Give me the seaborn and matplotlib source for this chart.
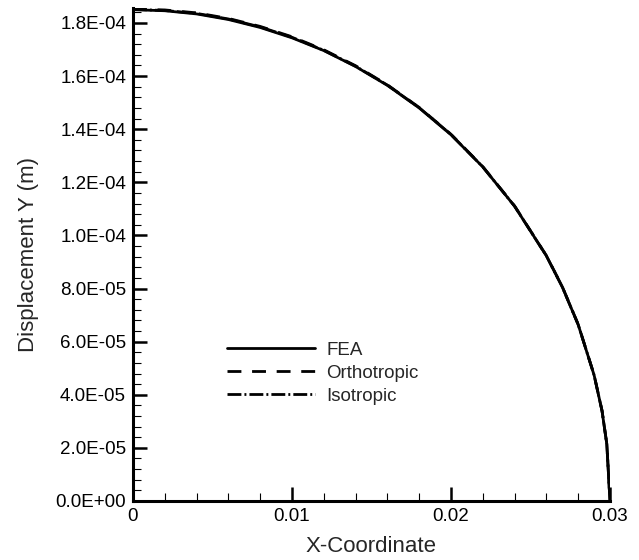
import numpy as np
import pandas as pd
import matplotlib
matplotlib.use("Agg")
import matplotlib.pyplot as plt
import seaborn as sns
from matplotlib.ticker import MultipleLocator, FuncFormatter

x_coord = [0, 0.002, 0.004, 0.006, 0.008, 0.010, 0.012, 0.014, 0.016, 0.018,
           0.020, 0.022, 0.024, 0.026, 0.027, 0.028, 0.029, 0.0295, 0.0298, 0.030]
fea = [1.850e-4, 1.846e-4, 1.834e-4, 1.813e-4, 1.783e-4, 1.744e-4, 1.696e-4, 1.636e-4,
       1.565e-4, 1.480e-4, 1.379e-4, 1.258e-4, 1.110e-4, 0.923e-4, 0.806e-4, 0.664e-4,
       0.474e-4, 0.339e-4, 0.214e-4, 0.0]
orthotropic = [1.852e-4, 1.849e-4, 1.838e-4, 1.817e-4, 1.787e-4, 1.748e-4, 1.699e-4, 1.639e-4,
               1.567e-4, 1.482e-4, 1.381e-4, 1.259e-4, 1.111e-4, 0.924e-4, 0.807e-4, 0.665e-4,
               0.475e-4, 0.340e-4, 0.215e-4, 0.0]
isotropic = [1.851e-4, 1.847e-4, 1.836e-4, 1.815e-4, 1.785e-4, 1.746e-4, 1.697e-4, 1.637e-4,
             1.566e-4, 1.481e-4, 1.380e-4, 1.258e-4, 1.110e-4, 0.923e-4, 0.806e-4, 0.664e-4,
             0.474e-4, 0.339e-4, 0.214e-4, 0.0]
series_names = ["FEA", "Orthotropic", "Isotropic"]

sns.set_style("white")
plt.rcParams['font.family'] = ['Liberation Sans', 'DejaVu Sans']

fig = plt.figure(figsize=(6.39, 5.6), dpi=100)
ax = fig.add_axes([0.2081, 0.1054, 0.7465, 0.8804])

styles = {"FEA": "-", "Orthotropic": (0, (5.0, 3.85)), "Isotropic": (0, (5.0, 1.1, 0.7, 1.1))}
for name, vals in zip(series_names, [fea, orthotropic, isotropic]):
    df = pd.DataFrame({"x": x_coord, "y": vals})
    sns.lineplot(data=df, x="x", y="y", ax=ax, color="black", linewidth=2,
                 linestyle=styles[name], label=name, sort=False, estimator=None)

ax.set_xlim(0, 0.03)
ax.set_ylim(0, 1.8565e-4)
ax.xaxis.set_major_locator(MultipleLocator(0.01))
ax.xaxis.set_minor_locator(MultipleLocator(0.002))
ax.yaxis.set_major_locator(MultipleLocator(2e-5))
ax.yaxis.set_minor_locator(MultipleLocator(4e-6))
ax.xaxis.set_major_formatter(FuncFormatter(lambda v, p: "0" if abs(v) < 1e-12 else f"{v:g}"))
ax.yaxis.set_major_formatter(FuncFormatter(lambda v, p: f"{v:.1E}"))

for s in ["top", "right"]:
    ax.spines[s].set_visible(False)
for s in ["left", "bottom"]:
    ax.spines[s].set_linewidth(2.2)
    ax.spines[s].set_color("black")

ax.tick_params(which="major", direction="in", length=10, width=1.8, labelsize=13.5, pad=5, colors="black")
ax.tick_params(which="minor", direction="in", length=6, width=0.8, colors="black")
ax.tick_params(axis="x", which="both", bottom=True)
ax.tick_params(axis="y", which="both", left=True)

ax.set_xlabel("X-Coordinate", fontsize=16, labelpad=8)
ax.set_ylabel("Displacement Y (m)", fontsize=16, labelpad=12)

leg = ax.legend(loc="upper left", bbox_to_anchor=(0.197, 0.323), frameon=False, fontsize=13.5,
                handlelength=4.7, handletextpad=0.6, labelspacing=0.31,
                borderpad=0, borderaxespad=0)
for line in leg.get_lines():
    line.set_linewidth(2)

fig.savefig("out.png", dpi=100)
